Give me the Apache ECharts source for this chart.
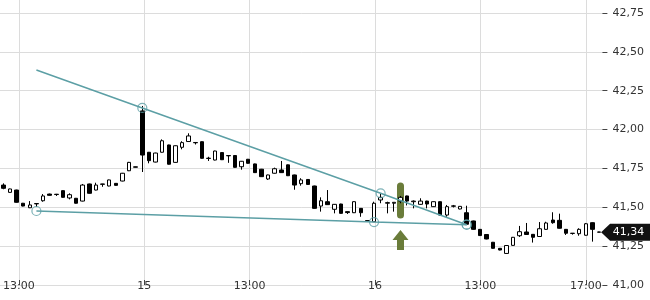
<!DOCTYPE html>
<html><head><meta charset="utf-8">
<script src="https://cdn.jsdelivr.net/npm/echarts@6/dist/echarts.min.js"></script>
<style>html,body{margin:0;padding:0;background:#fff}#c{width:650px;height:300px}</style>
</head><body><div id="c"></div>
<script>
const categories = [
 '14 12:30','14 12:45','14 13:00','14 13:15','14 13:30','14 13:45','14 14:00','14 14:15','14 14:30','14 14:45','14 15:00','14 15:15','14 15:30','14 15:45','14 16:00','14 16:15','14 16:30','14 16:45','14 17:00','14 17:15','14 17:30',
 '15 09:00','15 09:15','15 09:30','15 09:45','15 10:00','15 10:15','15 10:30','15 10:45','15 11:00','15 11:15','15 11:30','15 11:45','15 12:00','15 12:15','15 12:30','15 12:45','15 13:00','15 13:15','15 13:30','15 13:45','15 14:00','15 14:15','15 14:30','15 14:45','15 15:00','15 15:15','15 15:30','15 15:45','15 16:00','15 16:15','15 16:30','15 16:45','15 17:00','15 17:15','15 17:30',
 '16 09:00','16 09:15','16 09:30','16 09:45','16 10:00','16 10:15','16 10:30','16 10:45','16 11:00','16 11:15','16 11:30','16 11:45','16 12:00','16 12:15','16 12:30','16 12:45','16 13:00','16 13:15','16 13:30','16 13:45','16 14:00','16 14:15','16 14:30','16 14:45','16 15:00','16 15:15','16 15:30','16 15:45','16 16:00','16 16:15','16 16:30','16 16:45','16 17:00','16 17:15','16 17:30'
];
const opens = [41.643,41.596,41.611,41.526,41.497,41.524,41.542,41.585,41.584,41.607,41.560,41.558,41.540,41.650,41.611,41.650,41.637,41.654,41.669,41.735,41.760,
 42.120,41.854,41.791,41.854,41.901,41.789,41.886,41.923,41.917,41.922,41.816,41.804,41.852,41.833,41.833,41.761,41.809,41.779,41.745,41.682,41.719,41.740,41.773,41.708,41.652,41.679,41.637,41.508,41.536,41.487,41.521,41.472,41.465,41.493,41.414,
 41.407,41.547,41.526,41.526,41.540,41.573,41.536,41.519,41.540,41.504,41.536,41.450,41.509,41.489,41.465,41.412,41.358,41.325,41.275,41.236,41.203,41.255,41.317,41.341,41.326,41.312,41.358,41.418,41.416,41.358,41.333,41.330,41.320,41.401,41.341];
const closes = [41.622,41.618,41.532,41.508,41.515,41.522,41.573,41.577,41.582,41.564,41.581,41.526,41.643,41.590,41.643,41.648,41.676,41.641,41.719,41.789,41.758,
 41.836,41.800,41.849,41.928,41.777,41.896,41.916,41.959,41.915,41.815,41.814,41.862,41.806,41.831,41.757,41.796,41.783,41.723,41.697,41.708,41.748,41.723,41.703,41.643,41.676,41.647,41.493,41.542,41.517,41.519,41.461,41.466,41.536,41.465,41.412,
 41.526,41.564,41.530,41.532,41.564,41.540,41.540,41.540,41.521,41.536,41.450,41.504,41.507,41.506,41.391,41.358,41.318,41.296,41.236,41.225,41.254,41.307,41.343,41.325,41.307,41.362,41.399,41.401,41.365,41.333,41.332,41.358,41.394,41.358,41.340];
const lows = [41.616,41.594,41.530,41.506,41.495,41.502,41.536,41.575,41.573,41.562,41.551,41.524,41.538,41.588,41.609,41.632,41.635,41.639,41.667,41.733,41.757,
 41.727,41.783,41.789,41.852,41.775,41.787,41.873,41.921,41.904,41.813,41.798,41.802,41.804,41.786,41.755,41.742,41.781,41.721,41.695,41.676,41.717,41.721,41.701,41.613,41.639,41.645,41.491,41.472,41.515,41.461,41.459,41.457,41.463,41.439,41.411,
 41.405,41.526,41.461,41.472,41.526,41.512,41.493,41.517,41.493,41.502,41.448,41.439,41.499,41.487,41.389,41.356,41.316,41.294,41.234,41.223,41.201,41.253,41.309,41.323,41.273,41.310,41.356,41.394,41.363,41.322,41.324,41.317,41.318,41.279,41.339];
const highs = [41.654,41.620,41.613,41.528,41.540,41.525,41.585,41.588,41.586,41.609,41.590,41.560,41.650,41.652,41.658,41.651,41.678,41.656,41.721,41.792,41.761,
 42.152,41.856,41.851,41.937,41.903,41.898,41.925,41.976,41.918,41.924,41.825,41.864,41.854,41.834,41.835,41.798,41.811,41.781,41.747,41.710,41.755,41.798,41.775,41.710,41.687,41.681,41.639,41.564,41.611,41.521,41.523,41.473,41.538,41.495,41.415,
 41.536,41.590,41.536,41.534,41.573,41.575,41.544,41.558,41.542,41.538,41.538,41.515,41.515,41.508,41.510,41.414,41.360,41.327,41.277,41.238,41.256,41.309,41.380,41.399,41.328,41.405,41.407,41.468,41.459,41.360,41.334,41.365,41.399,41.403,41.342];

const tickIndex = [2, 21, 37, 56, 72, 88];
const tickLabels = ['13:00', '15', '13:00', '16', '13:00', '17:00'];

const upperTrend = [[5, 42.383], [21, 42.139], [57, 41.590], [70, 41.388]];
const upperMarked = [false, true, true, true];
const lowerTrend = [[5, 41.476], [56, 41.405], [70, 41.388]];
const lowerMarked = [true, true, true];
const signalBar = [[60, 41.544]];
const signalArrow = [[60, 41.290]];

const fmt = v => v.toFixed(2).replace('.', ',');
const isTick = (i) => tickIndex.indexOf(i) >= 0;
const lastIdx = closes.length - 1;
const lastPrice = closes[lastIdx];
const TEAL = '#5c9fa5';
const GREEN = '#6a7c3a';

const candleData = opens.map((o, i) => [o, closes[i], lows[i], highs[i]]);
const trendLine = pts => pts.map(p => ({ value: p, symbol: 'none' }));
const trendMarks = (pts, marks) => pts.filter((p, i) => marks[i]);

const ringStyle = { color: 'rgba(255,255,255,0)', borderColor: TEAL, borderWidth: 1.2 };

const chart = echarts.init(document.getElementById('c'), null, { renderer: 'canvas' });
chart.setOption({
  animation: false,
  textStyle: { fontFamily: 'DejaVu Sans' },
  grid: [
    { left: 0, right: 47.6, top: 13, bottom: 15 },
    { left: 3.31, right: 50.9, top: 0, bottom: 15 }
  ],
  xAxis: [
    { type: 'category', gridIndex: 0, data: categories, boundaryGap: true, show: false },
    {
      type: 'category', gridIndex: 1, data: categories, boundaryGap: false, position: 'bottom', offset: 13,
      axisLine: { show: false },
      axisTick: { show: true, inside: true, length: 5, interval: isTick, lineStyle: { color: '#444' } },
      axisLabel: { show: true, inside: true, margin: 6, interval: isTick, color: '#333', fontSize: 11,
        formatter: (v, i) => tickLabels[tickIndex.indexOf(i)] },
      splitLine: { show: true, interval: isTick, lineStyle: { color: '#dcdcdc', width: 1 } }
    }
  ],
  yAxis: [
    {
      type: 'value', gridIndex: 0, position: 'right', min: 41, max: 42.75, interval: 0.25, scale: true,
      axisLine: { show: false },
      axisTick: { show: true, length: 5, lineStyle: { color: '#444' } },
      axisLabel: { margin: 10, color: '#333', fontSize: 11, formatter: fmt },
      splitLine: { show: true, lineStyle: { color: '#dcdcdc', width: 1 } }
    },
    { type: 'value', gridIndex: 1, show: false }
  ],
  series: [
    {
      type: 'scatter', xAxisIndex: 0, yAxisIndex: 0, z: 1, silent: true,
      data: signalBar,
      symbol: 'path://M3.5,0 A3.5,3.5 0 0 1 7,3.5 L7,32.5 A3.5,3.5 0 0 1 0,32.5 L0,3.5 A3.5,3.5 0 0 1 3.5,0 Z',
      symbolSize: [7, 36], itemStyle: { color: GREEN, opacity: 1 }
    },
    {
      type: 'scatter', xAxisIndex: 0, yAxisIndex: 0, z: 1, silent: true,
      data: signalArrow,
      symbol: 'path://M8,0 L16,10 L11.5,10 L11.5,20 L4.5,20 L4.5,10 L0,10 Z',
      symbolSize: [16, 20], itemStyle: { color: GREEN, opacity: 1 }
    },
    {
      type: 'candlestick', xAxisIndex: 0, yAxisIndex: 0, z: 2, clip: false,
      data: candleData, barWidth: 4,
      itemStyle: { color: '#ffffff', color0: '#000000', borderColor: '#000000', borderColor0: '#000000', borderWidth: 1 },
      markPoint: {
        silent: true,
        symbol: 'path://M0,8.5 L9,0 L49,0 L49,17 L9,17 Z',
        symbolSize: [49, 17],
        symbolOffset: [26.5, 0],
        itemStyle: { color: '#111111' },
        label: { show: true, position: 'inside', color: '#ffffff', fontSize: 11, offset: [3, 0], formatter: () => fmt(lastPrice) },
        data: [{ coord: [lastIdx, lastPrice], value: lastPrice }]
      }
    },
    {
      type: 'line', xAxisIndex: 0, yAxisIndex: 0, z: 3, silent: true,
      data: trendLine(upperTrend), showSymbol: false,
      lineStyle: { color: TEAL, width: 1.5 }
    },
    {
      type: 'line', xAxisIndex: 0, yAxisIndex: 0, z: 3, silent: true,
      data: trendLine(lowerTrend), showSymbol: false,
      lineStyle: { color: TEAL, width: 1.5 }
    },
    {
      type: 'scatter', xAxisIndex: 0, yAxisIndex: 0, z: 4, silent: true,
      data: trendMarks(upperTrend, upperMarked).concat(trendMarks(lowerTrend, lowerMarked)),
      symbol: 'circle', symbolSize: 9, itemStyle: ringStyle
    }
  ]
});
</script>
</body></html>
